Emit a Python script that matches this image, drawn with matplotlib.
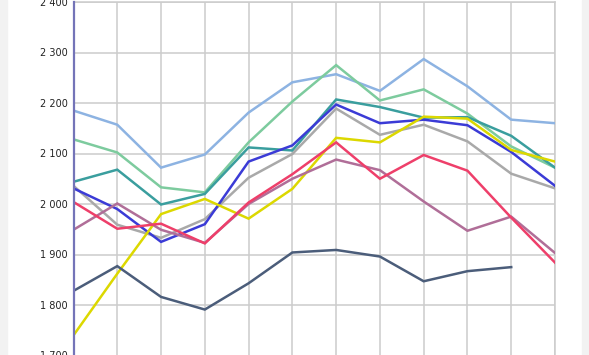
import matplotlib
matplotlib.use("Agg")
import matplotlib.pyplot as plt
import matplotlib.ticker as mticker
import numpy as np

# --- Data ---
x_points = list(range(12))

light_blue = [2185, 2157, 2072, 2098, 2181, 2241, 2257, 2224, 2287, 2233, 2167, 2160]
light_green = [2128, 2102, 2033, 2023, 2122, 2203, 2275, 2205, 2227, 2179, 2114, 2072]
teal = [2044, 2068, 1999, 2020, 2112, 2106, 2207, 2192, 2171, 2172, 2135, 2072]
blue = [2031, 1990, 1925, 1960, 2084, 2116, 2197, 2160, 2167, 2156, 2103, 2036]
gray = [2036, 1959, 1933, 1970, 2052, 2099, 2189, 2137, 2157, 2124, 2060, 2031]
yellow = [1740, 1862, 1980, 2010, 1971, 2030, 2131, 2122, 2173, 2169, 2107, 2084]
red = [2004, 1951, 1961, 1922, 2003, 2059, 2122, 2050, 2097, 2066, 1973, 1884]
mauve = [1949, 2001, 1949, 1923, 2000, 2050, 2088, 2067, 2005, 1947, 1975, 1903]
slate = [1828, 1877, 1816, 1791, 1843, 1904, 1909, 1896, 1847, 1867, 1875, None]

series = [
    (light_blue, "#8db3e2"),
    (light_green, "#7dcb9e"),
    (teal, "#3a9e9e"),
    (gray, "#a9a9a9"),
    (blue, "#3b3bd6"),
    (yellow, "#dcd800"),
    (mauve, "#b06e98"),
    (red, "#ee3f6a"),
    (slate, "#4b5d7a"),
]

y_ticks = [1700, 1800, 1900, 2000, 2100, 2200, 2300, 2400]

fig = plt.figure(figsize=(5.89, 3.55), dpi=100)
fig.patch.set_facecolor("white")

# light gray page edges
fig.patches.append(plt.Rectangle((0, 0), 6.5 / 589, 1, transform=fig.transFigure,
                                 color="#f2f2f2", zorder=0))
fig.patches.append(plt.Rectangle((582 / 589, 0), 7 / 589, 1, transform=fig.transFigure,
                                 color="#f2f2f2", zorder=0))

ax = fig.add_axes([73.5 / 589, -0.5 / 355, (555 - 73.5) / 589, 353.5 / 355])

for vals, col in series:
    y = np.array([np.nan if v is None else v for v in vals], dtype=float)
    ax.plot(x_points, y, color=col, linewidth=1.8, solid_joinstyle="miter", zorder=3)

ax.set_xlim(0, 11)
ax.set_ylim(1700, 2400)
ax.set_xticks(x_points)
ax.set_yticks(y_ticks)
ax.yaxis.set_major_formatter(mticker.FuncFormatter(lambda v, p: f"{int(v):,}".replace(",", " ")))
ax.tick_params(axis="x", length=0, labelbottom=False)
ax.tick_params(axis="y", length=0, labelsize=7, pad=4, colors="#222222")
ax.grid(True, color="#cccccc", linewidth=1.1, zorder=0)

for side in ["top", "right", "bottom"]:
    ax.spines[side].set_color("#cccccc")
    ax.spines[side].set_linewidth(1.1)
ax.spines["left"].set_color("#7474b8")
ax.spines["left"].set_linewidth(1.6)
ax.spines["left"].set_zorder(4)

fig.savefig("out.png", dpi=100)
plt.close()
